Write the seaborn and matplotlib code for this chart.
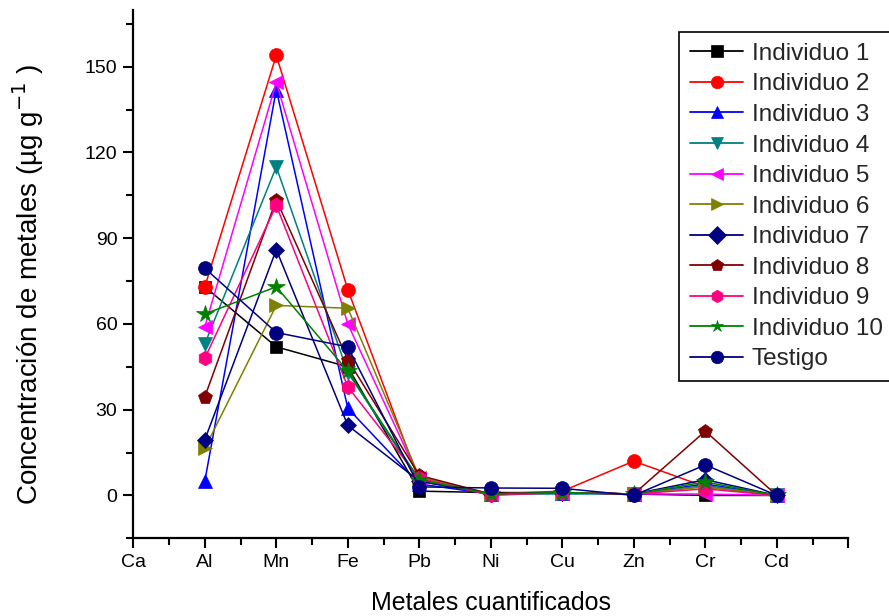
import matplotlib
matplotlib.use("Agg")
import matplotlib.pyplot as plt
import seaborn as sns
import pandas as pd
import numpy as np
from matplotlib.ticker import MultipleLocator

# ---- data ----
categories = ["Ca", "Al", "Mn", "Fe", "Pb", "Ni", "Cu", "Zn", "Cr", "Cd"]
metals = ["Al", "Mn", "Fe", "Pb", "Ni", "Cu", "Zn", "Cr", "Cd"]

ind1 = [73, 52, 45, 1.5, 1, 1, 0.5, 0, 0]
ind2 = [73, 154, 72, 5, 0.5, 1.5, 12, 3, 0]
ind3 = [5, 142, 30.5, 4, 0.5, 1, 0.5, 4, 0]
ind4 = [53, 115, 43, 5, 0.5, 0.5, 0.5, 3.5, 0]
ind5 = [59, 144.5, 60, 6, 0.5, 1, 0.5, 0.5, 0]
ind6 = [16.5, 66.5, 65.5, 6.5, 0.5, 1, 0.5, 3, 0]
ind7 = [19.5, 86, 24.5, 5, 0.5, 1, 0.5, 5.5, 0]
ind8 = [34.5, 103.5, 47.5, 7, 0.5, 1, 0.5, 22.5, 0]
ind9 = [48, 101.5, 38, 6, 0, 1, 0.5, 2.3, 0]
ind10 = [63.5, 73, 43.5, 5.5, 0.5, 1, 0.5, 4.7, 0]
testigo = [79.5, 57, 52, 3, 2.6, 2.5, 0, 10.7, 0]

series_names = ["Individuo 1", "Individuo 2", "Individuo 3", "Individuo 4",
                "Individuo 5", "Individuo 6", "Individuo 7", "Individuo 8",
                "Individuo 9", "Individuo 10", "Testigo"]
series_values = [ind1, ind2, ind3, ind4, ind5, ind6, ind7, ind8, ind9, ind10, testigo]
yticks = [0, 30, 60, 90, 120, 150]

colors = ["#000000", "#FF0000", "#0000FF", "#008080", "#FF00FF", "#808000",
          "#000080", "#800000", "#FF0080", "#008000", "#000080"]
markers = ["s", "o", "^", "v", "<", ">", "D", "p", "h", "*", "o"]

rows = []
for name, vals in zip(series_names, series_values):
    for m, v in zip(metals, vals):
        rows.append({"serie": name, "pos": categories.index(m), "valor": v})
df = pd.DataFrame(rows)

# ---- style ----
sns.set_style("ticks")
plt.rcParams["font.family"] = ["Liberation Sans", "DejaVu Sans"]
plt.rcParams["mathtext.default"] = "regular"

fig = plt.figure(figsize=(8.89, 6.16), dpi=100)
ax = fig.add_axes([133.3 / 889, 1 - 538.3 / 616, (848.3 - 133.3) / 889, (538.3 - 9.6) / 616])

palette = dict(zip(series_names, colors))
mk = dict(zip(series_names, markers))
sizes = {"*": 13, "h": 10.5, "p": 10.5, "D": 8.5, "s": 8.5, "o": 10}
sns.lineplot(data=df, x="pos", y="valor", hue="serie", style="serie",
             hue_order=series_names, style_order=series_names,
             palette=palette, markers=mk, dashes=False, sort=False,
             linewidth=1.1, markersize=10, ax=ax, legend="full")

for line in ax.get_lines():
    c = line.get_color()
    line.set_markeredgecolor(c)
    line.set_markerfacecolor(c)
    line.set_markeredgewidth(0.5)
    m = line.get_marker()
    if m in sizes:
        line.set_markersize(sizes[m])

ax.set_xlim(0, 10)
ax.set_ylim(-15, 170)
ax.set_xticks(range(len(categories) + 1))
ax.set_xticklabels(categories + [""])
ax.xaxis.set_minor_locator(MultipleLocator(0.5))
ax.set_yticks(yticks)
ax.yaxis.set_minor_locator(MultipleLocator(15))
ax.tick_params(axis="both", which="major", direction="out", length=7.5, width=1.5,
               labelsize=14, color="black", labelcolor="black", pad=4)
ax.tick_params(axis="both", which="minor", direction="out", length=4.8, width=1.5, color="black")
for s in ["left", "bottom"]:
    ax.spines[s].set_linewidth(1.6)
    ax.spines[s].set_color("black")
sns.despine(ax=ax)

ax.set_xlabel("Metales cuantificados", fontsize=18, color="black")
ax.set_ylabel("Concentración de metales (µg g$^{\\mathsf{-1}}$ )", fontsize=20, color="black")
ax.xaxis.set_label_coords(0.5, -0.123)
ax.xaxis.label.set_va("center")
ax.yaxis.set_label_coords(-0.147, 0.48)
ax.yaxis.label.set_va("center")

handles, labels = ax.get_legend_handles_labels()
for h in handles:
    c = h.get_color()
    h.set_markeredgecolor(c)
    h.set_markerfacecolor(c)
    h.set_linewidth(1.3)
    h.set_markersize(9)
leg = ax.legend(handles, labels, loc="upper left",
                bbox_to_anchor=(679 / 889, 1 - 32 / 616), bbox_transform=fig.transFigure,
                borderaxespad=0, frameon=True, fancybox=False, framealpha=1,
                edgecolor="black", fontsize=17.5, handlelength=2.2,
                handletextpad=0.35, labelspacing=0.35, borderpad=0.45)
leg.get_frame().set_linewidth(1.2)

fig.savefig("out.png", dpi=100)
